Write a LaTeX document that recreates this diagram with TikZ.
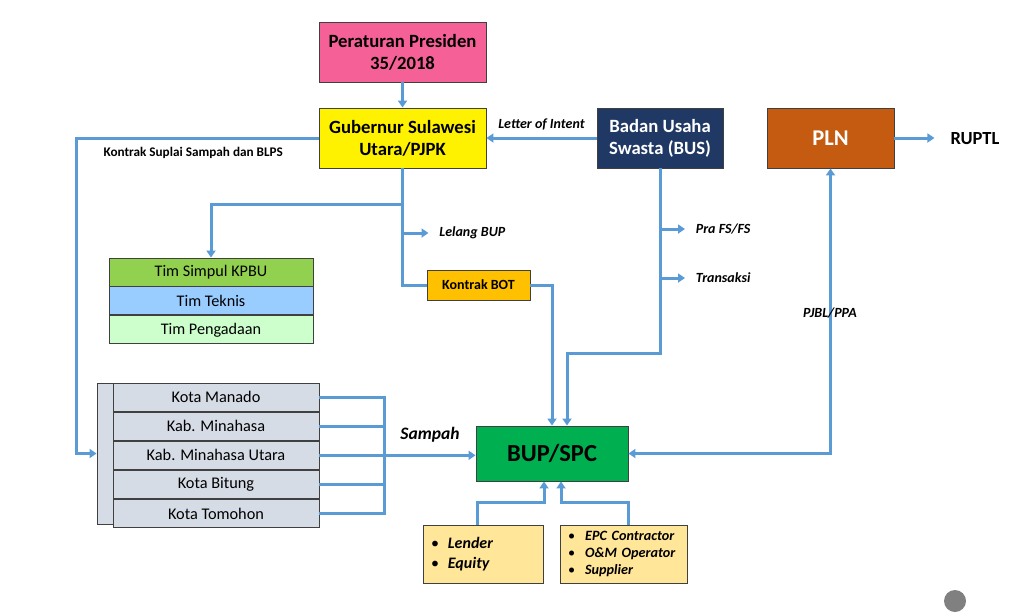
\documentclass[tikz,border=0pt]{standalone}
\usepackage{fontspec}
\setmainfont{Carlito}
\usepackage{tikz}
\usetikzlibrary{shapes, arrows.meta, positioning}

\definecolor{flowblue}{RGB}{91,155,213}
\definecolor{perpresfill}{RGB}{245,97,150}
\definecolor{busfill}{RGB}{31,56,100}
\definecolor{plnfill}{RGB}{197,90,17}
\definecolor{simpulfill}{RGB}{146,208,80}
\definecolor{teknisfill}{RGB}{153,204,255}
\definecolor{pengadaanfill}{RGB}{204,255,204}
\definecolor{botfill}{RGB}{255,192,0}
\definecolor{bupfill}{RGB}{0,176,80}
\definecolor{kotafill}{RGB}{214,220,229}
\definecolor{mitrafill}{RGB}{255,230,153}

\begin{document}
\begin{tikzpicture}[x=1pt, y=-1pt,
    box/.style={draw=black!75, line width=0.9pt, rectangle, inner sep=0pt, align=center},
    line/.style={draw=flowblue, line width=3pt},
    flow/.style={line, -{Triangle[length=7pt,width=9pt]}},
    both/.style={line, {Triangle[length=7pt,width=9pt]}-{Triangle[length=7pt,width=9pt]}},
    big/.style={font=\fontsize{18.7}{22}\selectfont\bfseries},
    lbl/.style={font=\fontsize{14}{16}\selectfont\bfseries\itshape},
    tim/.style={box, minimum width=204, minimum height=28, font=\fontsize{16.2}{18}\selectfont},
    kota/.style={box, fill=kotafill, minimum width=206, minimum height=28.2, font=\fontsize{16.3}{18}\selectfont}]

    \useasboundingbox (0,0) rectangle (1025,614);

    % top row
    \node (perpres) [box, big, fill=perpresfill, minimum width=167, minimum height=60] at (402.5,52) {Peraturan Presiden\\35/2018};
    \node (gub) [box, big, fill=yellow, minimum width=167, minimum height=60] at (402.5,138) {Gubernur Sulawesi\\Utara/PJPK};
    \node (bus) [box, big, fill=busfill, text=white, minimum width=126, minimum height=60] at (660,138) {Badan Usaha\\Swasta (BUS)};
    \node (pln) [box, fill=plnfill, text=white, minimum width=127, minimum height=60, font=\fontsize{22.5}{24}\selectfont\bfseries] at (830.5,138) {PLN};
    \node (ruptl) [font=\fontsize{18.5}{20}\selectfont\bfseries] at (975,139) {RUPTL};

    % tim
    \node (simpul) [tim, fill=simpulfill] at (211,272) {Tim Simpul KPBU};
    \node (teknis) [tim, fill=teknisfill, below=0pt of simpul] {Tim Teknis};
    \node (pengadaan) [tim, fill=pengadaanfill, below=0pt of teknis] {Tim Pengadaan};

    \node (bot) [box, fill=botfill, minimum width=103, minimum height=30, font=\fontsize{14}{16}\selectfont\bfseries] at (478.5,285) {Kontrak BOT};
    \node (bup) [box, fill=bupfill, minimum width=152, minimum height=55, font=\fontsize{24.5}{26}\selectfont\bfseries] at (552,453.5) {BUP/SPC};

    % kota / kabupaten
    \node (strip) [box, fill=kotafill, minimum width=16, minimum height=141] at (105,453.5) {};
    \node (manado) [kota] at (216,397.1) {Kota Manado};
    \node (minahasa) [kota, below=0pt of manado] {Kab. Minahasa};
    \node (minut) [kota, below=0pt of minahasa] {Kab. Minahasa Utara};
    \node (bitung) [kota, below=0pt of minut] {Kota Bitung};
    \node (tomohon) [kota, below=0pt of bitung] {Kota Tomohon};

    % mitra
    \node (lender) [box, fill=mitrafill, minimum width=120, minimum height=58, text width=104, inner xsep=8, align=left, font=\fontsize{16}{19.5}\selectfont\bfseries\itshape] at (483,554)
        {{\mdseries\upshape\textbullet}\hspace{9pt}Lender\\{\mdseries\upshape\textbullet}\hspace{9pt}Equity};
    \node (epc) [box, fill=mitrafill, minimum width=127, minimum height=58, text width=111, inner xsep=8, align=left, font=\fontsize{14.2}{17}\selectfont\bfseries\itshape] at (623.5,554)
        {{\mdseries\upshape\textbullet}\hspace{10pt}EPC Contractor\\{\mdseries\upshape\textbullet}\hspace{10pt}O\&M Operator\\{\mdseries\upshape\textbullet}\hspace{10pt}Supplier};

    % connectors
    \draw[flow] (perpres.south) -- (gub.north);
    \draw[flow] (bus.west) -- node[above=3pt, lbl] {Letter of Intent} (gub.east);
    \draw[flow] (pln.east) -- ++(40,0);
    \draw[flow] (gub.west) -- ++(-242,0) |- (strip.west);
    \node (suplai) [anchor=west, font=\fontsize{13.2}{15}\selectfont\bfseries] at (100,153) {Kontrak Suplai Sampah dan BLPS};

    \coordinate (split) at (402.5,204);
    \draw[line] (gub.south) -- (split);
    \draw[flow] (split) -| (simpul.north);
    \draw[line] (split) |- (bot.west);
    \draw[flow] (402.5,233) -- ++(26,0) node[right=6pt, lbl] {Lelang BUP};
    \draw[flow] (bot.east) -| (bup.north);

    \draw[flow] (bus.south) -- ++(0,185) -| ([xshift=15]bup.north);
    \draw[flow] (660,229) -- ++(25,0) node[right=6pt, lbl] {Pra FS/FS};
    \draw[flow] (660,278) -- ++(25,0) node[right=6pt, lbl] {Transaksi};

    \draw[both] (bup.east) -| (pln.south);
    \node (ppa) [lbl] at (830,313) {PJBL/PPA};

    \draw[line] (manado.east) -- ++(65,0) coordinate (sampahbar) -- (sampahbar |- tomohon.east) -- (tomohon.east);
    \foreach \k in {minahasa, bitung}
        \draw[line] (\k.east) -- (sampahbar |- \k.east);
    \draw[flow] (minut.east) -- (minut.east -| bup.west);
    \node (sampah) [font=\fontsize{17.5}{20}\selectfont\bfseries\itshape] at (430,435) {Sampah};

    \draw[flow] ([xshift=-6]lender.north) -- ++(0,-22) -| ([xshift=-8]bup.south);
    \draw[flow] ([xshift=4.5]epc.north) -- ++(0,-22) -| ([xshift=9]bup.south);

    \fill[gray] (955,601) circle (11);
\end{tikzpicture}
\end{document}
